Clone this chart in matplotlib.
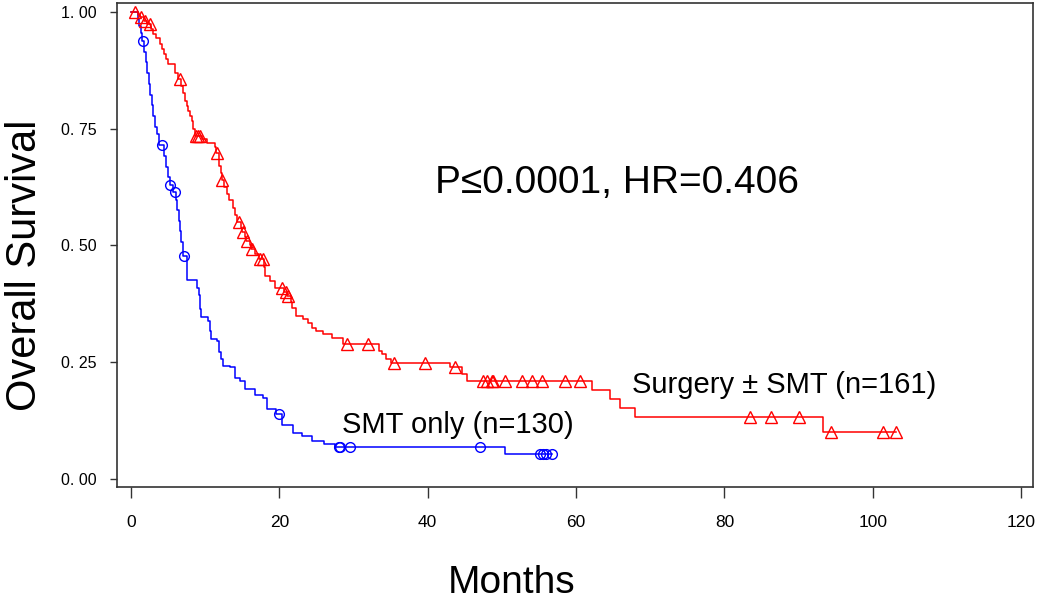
import numpy as np
import matplotlib
matplotlib.use('Agg')
import matplotlib.pyplot as plt

# Kaplan-Meier steps: drop times (months) and survival after each drop
smt_time = [0.9, 1.1, 1.3, 1.5, 1.8, 2.0, 2.2, 2.4, 2.6, 2.8, 3.0, 3.2, 3.5, 3.8, 4.4,
            4.7, 5.0, 5.2, 5.6, 6.0, 6.2, 6.4, 6.6, 6.8, 7.0, 7.6, 8.9, 9.1, 9.3, 9.4,
            10.4, 10.65, 10.8, 11.55, 11.8, 12.1, 12.45, 13.35, 14.0, 14.7, 15.4, 16.7,
            17.8, 18.3, 19.5, 20.3, 21.9, 23.0, 24.4, 26.0, 27.5, 50.4]
smt_surv = [0.985, 0.970, 0.954, 0.938, 0.915, 0.892, 0.869, 0.846, 0.823, 0.800, 0.777,
            0.754, 0.738, 0.715, 0.692, 0.669, 0.646, 0.630, 0.614, 0.597, 0.575, 0.553,
            0.530, 0.507, 0.478, 0.426, 0.410, 0.394, 0.363, 0.346, 0.339, 0.316, 0.300,
            0.296, 0.271, 0.256, 0.242, 0.239, 0.217, 0.210, 0.192, 0.181, 0.174, 0.149,
            0.139, 0.116, 0.099, 0.092, 0.081, 0.075, 0.069, 0.053]
smt_censor = [1.6, 4.2, 5.3, 5.9, 7.2, 19.9, 28.0, 28.2, 29.5, 47.1, 55.1, 55.6, 56.0, 56.7]
smt_end = 56.7

surg_time = [0.9, 1.2, 1.7, 2.2, 2.7, 3.0, 3.4, 3.9, 4.2, 4.4, 4.7, 5.0, 5.9, 6.3, 6.8,
             7.0, 7.3, 7.5, 7.7, 8.0, 8.2, 8.4, 8.6, 9.6, 10.2, 11.3, 11.5, 11.8, 11.9,
             12.1, 12.2, 12.5, 12.9, 13.2, 13.8, 14.0, 14.3, 14.8, 15.0, 15.3, 15.5, 16.0,
             16.2, 16.7, 17.2, 17.9, 18.1, 18.7, 19.4, 20.6, 21.0, 21.5, 21.7, 22.3, 23.2,
             23.9, 24.4, 25.0, 25.9, 27.1, 28.6, 33.4, 33.8, 34.4, 35.0, 43.0, 44.6, 45.3,
             62.2, 64.6, 65.9, 68.0, 93.3]
surg_surv = [0.994, 0.988, 0.981, 0.975, 0.963, 0.953, 0.944, 0.931, 0.920, 0.910, 0.899,
             0.888, 0.870, 0.856, 0.842, 0.826, 0.810, 0.799, 0.788, 0.777, 0.767, 0.750,
             0.735, 0.728, 0.720, 0.710, 0.698, 0.685, 0.670, 0.655, 0.640, 0.625, 0.610,
             0.597, 0.580, 0.565, 0.550, 0.537, 0.528, 0.519, 0.510, 0.500, 0.492, 0.481,
             0.471, 0.455, 0.435, 0.424, 0.410, 0.400, 0.392, 0.378, 0.367, 0.349, 0.342,
             0.335, 0.324, 0.317, 0.310, 0.303, 0.289, 0.275, 0.267, 0.258, 0.249, 0.239,
             0.224, 0.210, 0.190, 0.172, 0.153, 0.132, 0.101]
surg_censor = [0.5, 1.4, 1.9, 2.5, 6.6, 8.7, 9.0, 9.3, 11.6, 12.3, 14.5, 15.1, 15.6, 16.3,
               17.4, 17.8, 20.4, 20.9, 21.2, 29.1, 31.9, 35.5, 39.6, 43.7, 47.5, 48.0, 48.6,
               48.8, 50.4, 52.7, 54.0, 55.4, 58.5, 60.5, 83.4, 86.3, 90.0, 94.3, 101.4, 103.1]
surg_end = 103.1

x_ticks = [0, 20, 40, 60, 80, 100, 120]
y_ticks = [0.0, 0.25, 0.5, 0.75, 1.0]
y_tick_labels = ['0. 00', '0. 25', '0. 50', '0. 75', '1. 00']

FONT = ['Liberation Sans', 'DejaVu Sans']


def km_curve(times, surv, end):
    t = np.concatenate([[0.0], times, [end]])
    s = np.concatenate([[1.0], surv, [surv[-1]]])
    return t, s


def surv_at(times, surv, when):
    t = np.concatenate([[0.0], times])
    s = np.concatenate([[1.0], surv])
    idx = np.searchsorted(t, when, side='right') - 1
    return s[idx]


fig = plt.figure(figsize=(10.5, 6), dpi=100)
ax = fig.add_axes([0.1114, 0.1883, 0.8724, 0.8067])

t, s = km_curve(smt_time, smt_surv, smt_end)
ax.step(t, s, where='post', color='#0000ff', lw=1.1)
ax.plot(smt_censor, surv_at(smt_time, smt_surv, smt_censor), 'o', ms=7,
        mfc='none', mec='#0000ff', mew=1.0)

t, s = km_curve(surg_time, surg_surv, surg_end)
ax.step(t, s, where='post', color='#ff0000', lw=1.1)
ax.plot(surg_censor, surv_at(surg_time, surg_surv, surg_censor), '^', ms=8,
        mfc='none', mec='#ff0000', mew=1.0)

ax.set_xlim(-1.9, 121.6)
ax.set_ylim(-0.017, 1.019)
ax.set_xticks(x_ticks)
ax.set_xticklabels([str(v) for v in x_ticks], fontfamily=FONT, fontsize=12.5)
ax.set_yticks(y_ticks)
ax.set_yticklabels(y_tick_labels, fontfamily=FONT, fontsize=11.5)
ax.tick_params(axis='x', direction='out', length=8, width=1, pad=12, color='#333333')
ax.tick_params(axis='y', direction='out', length=5, width=1, pad=10, color='#333333')
for sp in ax.spines.values():
    sp.set_color('#333333')
    sp.set_linewidth(1.2)

ax.text(41.0, 0.613, 'P≤0.0001, HR=0.406', fontfamily=FONT, fontsize=28,
        ha='left', va='baseline')
ax.text(28.4, 0.099, 'SMT only (n=130)', fontfamily=FONT, fontsize=21,
        ha='left', va='baseline')
ax.text(67.5, 0.185, 'Surgery ± SMT (n=161)', fontfamily=FONT, fontsize=21,
        ha='left', va='baseline')

fig.text(25 / 1050, 1 - 265 / 600, 'Overall Survival', rotation=90, fontfamily=FONT,
         fontsize=30, ha='center', va='center')
fig.text(512 / 1050, 1 - 593 / 600, 'Months', fontfamily=FONT, fontsize=28,
         ha='center', va='baseline')

fig.savefig('out.png', dpi=100, facecolor='white')
